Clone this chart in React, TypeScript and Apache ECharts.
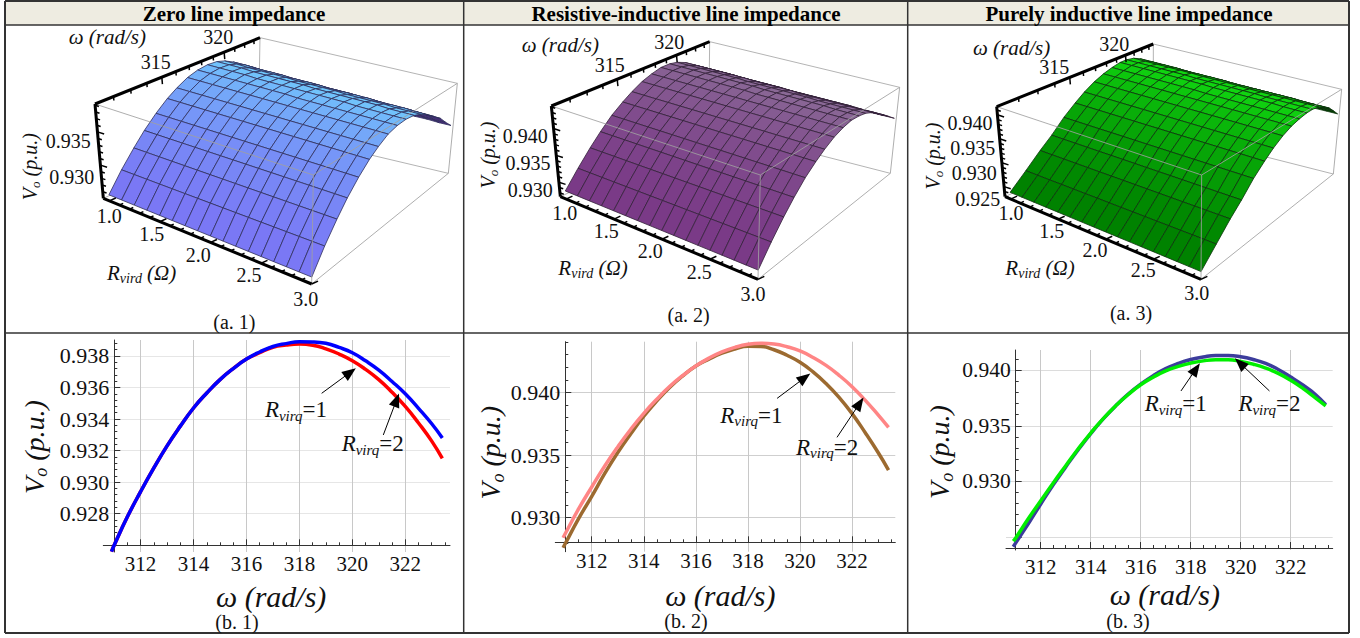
import React, { useEffect, useRef } from "react";
import * as echarts from "echarts";

const SERIF = "Liberation Serif";

// ---- bottom row data ----
const omegaSamples = [310.9, 311, 311.5, 312, 312.5, 313, 313.5, 314, 314.5, 315, 315.5, 316, 316.5, 317, 317.5, 318, 318.5, 319, 319.5, 320, 320.5, 321, 321.5, 322, 322.5, 323, 323.4];
const zeroR1 = [0.9256, 0.926, 0.9278, 0.9294, 0.9309, 0.9323, 0.93355, 0.9347, 0.93565, 0.9365, 0.9372, 0.9378, 0.93825, 0.9386, 0.93878, 0.9389, 0.93889, 0.9388, 0.93854, 0.9382, 0.93769, 0.9371, 0.93638, 0.9356, 0.93468, 0.9337, 0.9328];
const zeroR2 = [0.9256, 0.926, 0.9278, 0.9294, 0.9309, 0.9323, 0.93355, 0.9347, 0.93565, 0.9365, 0.9372, 0.9378, 0.9382, 0.93855, 0.93869, 0.93875, 0.93868, 0.93845, 0.93812, 0.9377, 0.93715, 0.9365, 0.9357, 0.9348, 0.93375, 0.9326, 0.9315];
const rlR1 = [0.9284, 0.9288, 0.93072, 0.93245, 0.93412, 0.93565, 0.93706, 0.93833, 0.93945, 0.94048, 0.94135, 0.94211, 0.94273, 0.94323, 0.94359, 0.94383, 0.94391, 0.94385, 0.94364, 0.9433, 0.94278, 0.94215, 0.94136, 0.94045, 0.93938, 0.9382, 0.9372];
const rlR2 = [0.9276, 0.928, 0.92995, 0.9317, 0.93353, 0.9352, 0.9367, 0.9381, 0.93932, 0.9404, 0.94132, 0.9421, 0.94265, 0.94312, 0.94346, 0.94368, 0.94366, 0.9434, 0.94296, 0.9424, 0.94163, 0.9407, 0.9396, 0.9383, 0.9368, 0.9352, 0.9338];
const indR1 = [0.9241, 0.92445, 0.92618, 0.92795, 0.92968, 0.9313, 0.93285, 0.9343, 0.93562, 0.9368, 0.93785, 0.93875, 0.93952, 0.94015, 0.94062, 0.94097, 0.9412, 0.94133, 0.94133, 0.94122, 0.94098, 0.94062, 0.94008, 0.9394, 0.93865, 0.9378, 0.9369];
const indR2 = [0.9246, 0.9249, 0.92662, 0.92825, 0.92985, 0.9314, 0.93293, 0.93435, 0.93565, 0.9368, 0.93782, 0.9387, 0.93938, 0.93995, 0.94035, 0.94065, 0.94085, 0.94095, 0.94095, 0.9408, 0.94055, 0.9402, 0.93972, 0.9391, 0.93835, 0.9375, 0.9368];

const xMajor = [312, 314, 316, 318, 320, 322];
const xMinor = [311, 311.5, 312, 312.5, 313, 313.5, 314, 314.5, 315, 315.5, 316, 316.5, 317, 317.5, 318, 318.5, 319, 319.5, 320, 320.5, 321, 321.5, 322, 322.5, 323, 323.5];
const y1Major = [0.928, 0.93, 0.932, 0.934, 0.936, 0.938];
const y1Minor = [0.9264, 0.9268, 0.9272, 0.9276, 0.928, 0.9284, 0.9288, 0.9292, 0.9296, 0.93, 0.9304, 0.9308, 0.9312, 0.9316, 0.932, 0.9324, 0.9328, 0.9332, 0.9336, 0.934, 0.9344, 0.9348, 0.9352, 0.9356, 0.936, 0.9364, 0.9368, 0.9372, 0.9376, 0.938, 0.9384, 0.9388];
const y2Major = [0.93, 0.935, 0.94];
const y2Minor = [0.928, 0.929, 0.93, 0.931, 0.932, 0.933, 0.934, 0.935, 0.936, 0.937, 0.938, 0.939, 0.94, 0.941, 0.942, 0.943, 0.944];
const y3Major = [0.925, 0.93, 0.935, 0.94];
const y3Labels = [0.93, 0.935, 0.94];
const y3Minor = [0.924, 0.925, 0.926, 0.927, 0.928, 0.929, 0.93, 0.931, 0.932, 0.933, 0.934, 0.935, 0.936, 0.937, 0.938, 0.939, 0.94, 0.941];

// ---- top row data: V in 1e-4 p.u.; one row per R in rGrid, one column per omega in omegaGrid ----
const rGrid = [1, 1.125, 1.25, 1.375, 1.5, 1.625, 1.75, 1.875, 2, 2.125, 2.25, 2.375, 2.5, 2.625, 2.75, 2.875, 3];
const omegaGrid = [311, 311.8, 312.6, 313.3, 314.1, 314.9, 315.6, 316.4, 317.2, 318, 318.8, 319.5, 320.3, 321.1, 321.9, 322.6, 323.4];
const surfaceZero = [
  [9259,9287,9311,9330,9348,9363,9373,9382,9387,9389,9388,9384,9377,9368,9358,9347,9336],
  [9259,9287,9311,9330,9348,9363,9373,9382,9387,9389,9388,9384,9377,9368,9358,9347,9335],
  [9259,9287,9311,9330,9348,9363,9373,9382,9387,9389,9388,9383,9376,9367,9357,9346,9335],
  [9259,9287,9311,9330,9348,9363,9373,9382,9387,9389,9387,9383,9376,9367,9357,9346,9334],
  [9259,9287,9311,9330,9348,9363,9373,9382,9387,9388,9387,9383,9376,9366,9356,9345,9334],
  [9259,9287,9311,9330,9348,9363,9373,9382,9387,9388,9387,9383,9375,9366,9356,9345,9333],
  [9259,9287,9311,9330,9348,9363,9373,9382,9387,9388,9387,9382,9375,9366,9356,9344,9333],
  [9259,9287,9311,9330,9348,9363,9373,9382,9387,9388,9387,9382,9375,9365,9355,9344,9332],
  [9259,9287,9311,9330,9348,9363,9373,9382,9386,9388,9386,9382,9374,9365,9355,9343,9332],
  [9259,9287,9311,9330,9348,9363,9373,9382,9386,9388,9386,9382,9374,9365,9355,9343,9331],
  [9259,9287,9311,9330,9348,9363,9373,9382,9386,9388,9386,9381,9374,9364,9354,9343,9331],
  [9259,9287,9311,9330,9348,9363,9373,9382,9386,9388,9386,9381,9374,9364,9354,9342,9330],
  [9259,9287,9311,9330,9348,9363,9373,9382,9386,9387,9386,9381,9373,9363,9353,9342,9330],
  [9259,9287,9311,9330,9348,9363,9373,9382,9386,9387,9386,9381,9373,9363,9353,9341,9329],
  [9259,9287,9311,9330,9348,9363,9373,9382,9386,9387,9385,9380,9373,9363,9353,9341,9329],
  [9259,9287,9311,9330,9348,9363,9373,9382,9386,9387,9385,9380,9372,9362,9352,9340,9328],
  [9259,9287,9311,9330,9348,9363,9373,9382,9386,9387,9385,9380,9372,9362,9352,9340,9328],
];
const surfaceRL = [
  [9288,9318,9345,9366,9387,9403,9415,9426,9433,9438,9438,9435,9428,9418,9408,9398,9388],
  [9288,9318,9345,9366,9387,9403,9415,9426,9433,9438,9438,9435,9428,9418,9408,9398,9388],
  [9288,9318,9345,9366,9387,9403,9415,9426,9433,9438,9438,9435,9428,9418,9408,9398,9387],
  [9288,9318,9345,9366,9387,9403,9415,9426,9433,9438,9438,9435,9428,9418,9408,9398,9387],
  [9288,9318,9345,9366,9387,9403,9415,9426,9433,9438,9438,9435,9428,9417,9407,9397,9387],
  [9288,9318,9345,9366,9387,9403,9415,9426,9433,9438,9438,9435,9428,9417,9407,9397,9387],
  [9288,9318,9345,9366,9387,9403,9415,9426,9433,9438,9438,9434,9427,9417,9407,9397,9386],
  [9288,9318,9345,9366,9387,9403,9415,9426,9433,9438,9438,9434,9427,9417,9407,9397,9386],
  [9288,9318,9345,9366,9387,9403,9415,9426,9433,9437,9437,9434,9427,9416,9406,9396,9386],
  [9288,9318,9345,9366,9387,9403,9415,9426,9433,9437,9437,9434,9427,9416,9406,9396,9386],
  [9288,9318,9345,9366,9387,9403,9415,9426,9433,9437,9437,9434,9426,9416,9406,9396,9385],
  [9288,9318,9345,9366,9387,9403,9415,9426,9433,9437,9437,9434,9426,9416,9406,9396,9385],
  [9288,9318,9345,9366,9387,9403,9415,9426,9433,9437,9437,9433,9426,9416,9406,9395,9385],
  [9288,9318,9345,9366,9387,9403,9415,9426,9433,9437,9437,9433,9426,9416,9406,9395,9385],
  [9288,9318,9345,9366,9387,9403,9415,9426,9433,9437,9436,9433,9426,9415,9405,9395,9384],
  [9288,9318,9345,9366,9387,9403,9415,9426,9433,9437,9436,9433,9426,9415,9405,9395,9384],
  [9288,9318,9345,9366,9387,9403,9415,9426,9433,9437,9436,9433,9426,9415,9405,9395,9384],
];
const surfaceInd = [
  [9243,9272,9300,9321,9347,9367,9382,9395,9404,9410,9414,9414,9411,9404,9394,9382,9369],
  [9243,9272,9300,9321,9347,9367,9382,9395,9404,9410,9414,9414,9411,9404,9394,9382,9369],
  [9243,9272,9300,9321,9347,9367,9382,9395,9404,9410,9414,9414,9411,9404,9394,9382,9368],
  [9243,9272,9300,9321,9347,9367,9382,9395,9404,9410,9414,9414,9411,9404,9394,9382,9368],
  [9243,9272,9300,9321,9347,9367,9382,9395,9404,9410,9414,9414,9411,9403,9393,9381,9368],
  [9243,9272,9300,9321,9347,9367,9382,9395,9404,9410,9414,9414,9411,9403,9393,9381,9368],
  [9243,9272,9300,9321,9347,9367,9382,9395,9404,9410,9414,9413,9410,9403,9393,9381,9367],
  [9243,9272,9300,9321,9347,9367,9382,9395,9404,9410,9414,9413,9410,9403,9393,9381,9367],
  [9243,9272,9300,9321,9347,9367,9382,9395,9404,9409,9413,9413,9410,9402,9392,9380,9367],
  [9243,9272,9300,9321,9347,9367,9382,9395,9404,9409,9413,9413,9410,9402,9392,9380,9367],
  [9243,9272,9300,9321,9347,9367,9382,9395,9404,9409,9413,9413,9409,9402,9392,9380,9366],
  [9243,9272,9300,9321,9347,9367,9382,9395,9404,9409,9413,9413,9409,9402,9392,9380,9366],
  [9243,9272,9300,9321,9347,9367,9382,9395,9404,9409,9413,9412,9409,9402,9392,9379,9366],
  [9243,9272,9300,9321,9347,9367,9382,9395,9404,9409,9413,9412,9409,9402,9392,9379,9366],
  [9243,9272,9300,9321,9347,9367,9382,9395,9404,9409,9412,9412,9409,9401,9391,9379,9365],
  [9243,9272,9300,9321,9347,9367,9382,9395,9404,9409,9412,9412,9409,9401,9391,9379,9365],
  [9243,9272,9300,9321,9347,9367,9382,9395,9404,9409,9412,9412,9409,9401,9391,9379,9365],
];
const rTicks = [1, 1.1, 1.2, 1.3, 1.4, 1.5, 1.6, 1.7, 1.8, 1.9, 2, 2.1, 2.2, 2.3, 2.4, 2.5, 2.6, 2.7, 2.8, 2.9, 3];
const rMajor = [1, 1.5, 2, 2.5, 3];
const omegaTicks = [311, 312, 313, 314, 315, 316, 317, 318, 319, 320, 321, 322, 323];
const omegaMajor = [315, 320];

const titles = ["Zero line impedance", "Resistive-inductive line impedance", "Purely inductive line impedance"];

// ---- layout (positions in reference pixels) ----
const panels3d = [
  {
    ox: 0, surface: surfaceZero, Vlo: 0.925, Vhi: 0.9392, k: 0.48, Vticks: [0.926,0.927,0.928,0.929,0.93,0.931,0.932,0.933,0.934,0.935,0.936,0.937,0.938,0.939], Vmajor: [0.93, 0.935],
    c: { p000: [310,595], p100: [935,852], p010: [775,385], p110: [1345,520], p001: [285,312], p101: [940,525], p011: [780,113], p111: [1372,250] },
    low: [122,120,245], high: [112,200,252], back: [70,45,120], mesh: "#30305c",
    labels: [["320",655,110],["315",467,185],["0.935",205,422],["0.930",215,530],["1.0",328,648],["1.5",455,703],["2.0",595,765],["2.5",747,825],["3.0",917,898]],
    omegaT: [322,112], vT: [90,500], rT: [425,820], cap: ["(a. 1)",703,965],
  },
  {
    ox: 462, surface: surfaceRL, Vlo: 0.9273, Vhi: 0.9442, k: 0.55, Vticks: [0.928,0.929,0.93,0.931,0.932,0.933,0.934,0.935,0.936,0.937,0.938,0.939,0.94,0.941,0.942,0.943,0.944], Vmajor: [0.93, 0.935, 0.94],
    c: { p000: [295,590], p100: [888,838], p010: [740,380], p110: [1285,520], p001: [268,318], p101: [895,525], p011: [743,125], p111: [1313,262] },
    low: [122,58,135], high: [138,105,150], back: [120,30,85], mesh: "#33223a",
    labels: [["320",622,125],["315",443,195],["0.940",190,408],["0.935",198,490],["0.930",205,570],["1.0",308,640],["1.5",433,693],["2.0",565,753],["2.5",712,815],["3.0",873,882]],
    omegaT: [295,135], vT: [78,465], rT: [393,805], cap: ["(a. 2)",680,946],
  },
  {
    ox: 905, surface: surfaceInd, Vlo: 0.9229, Vhi: 0.9417, k: 0.9, Vticks: [0.923,0.924,0.925,0.926,0.927,0.928,0.929,0.93,0.931,0.932,0.933,0.934,0.935,0.936,0.937,0.938,0.939,0.94,0.941], Vmajor: [0.925, 0.93, 0.935, 0.94],
    c: { p000: [300,590], p100: [888,838], p010: [745,385], p110: [1285,522], p001: [275,320], p101: [890,525], p011: [745,132], p111: [1310,268] },
    low: [0,130,0], high: [16,212,16], back: [0,60,0], mesh: "#0d330d",
    labels: [["320",628,132],["315",448,202],["0.940",195,368],["0.935",203,443],["0.930",208,520],["0.925",218,597],["1.0",318,640],["1.5",440,693],["2.0",570,750],["2.5",715,810],["3.0",875,878]],
    omegaT: [320,143], vT: [85,468], rT: [405,803], cap: ["(a. 3)",678,940],
  },
];

const OMEGA_LO = 311, OMEGA_SPAN = 12.7, R_LO = 0.94, R_SPAN = 2.06;

const panels2d = [
  {
    grid: { left: 103.3, top: 340, width: 346.7, height: 212 }, xMin: 310.59, xMax: 323.69, yMin: 0.92557, yMax: 0.93901,
    xOff: 6.7, yOff: 11, yMajor: y1Major, yLabels: y1Major, yMinor: y1Minor, labelFont: 22, yNameGap: 64, yPad: 2, xNameGap: 36, xPad: 11, hLine: "#e6e6e6",
    s2: zeroR2, s1: zeroR1, c2: "#ff0000", c1: "#0000ff",
    arrows: [[[318.84,0.93563],[319.92,0.93696]],[[321.17,0.93299],[321.67,0.93521]]],
    notes: [["1",317.87,0.93458],["2",320.77,0.93242]],
    cap: ["(b. 1)",237,622],
  },
  {
    grid: { left: 555.3, top: 341.7, width: 340, height: 210 }, xMin: 310.6, xMax: 323.66, yMin: 0.92729, yMax: 0.94404,
    xOff: 9.4, yOff: 10, yMajor: y2Major, yLabels: y2Major, yMinor: y2Minor, labelFont: 22, yNameGap: 56, yPad: 12, xNameGap: 38, xPad: 10, hLine: "#cfcfcf",
    s2: rlR2, s1: rlR1, c2: "#9c6a30", c1: "#ff8585",
    arrows: [[[319.12,0.93952],[320.18,0.94117]],[[321.42,0.93641],[322.29,0.93912]]],
    notes: [["1",318.13,0.93819],["2",321.04,0.93561]],
    cap: ["(b. 2)",686,621],
  },
  {
    grid: { left: 1006, top: 350, width: 326.7, height: 200 }, xMin: 310.61, xMax: 323.68, yMin: 0.92381, yMax: 0.94183,
    xOff: 2, yOff: 9.7, yMajor: y3Major, yLabels: y3Labels, yMinor: y3Minor, labelFont: 21.5, yNameGap: 60, yPad: 4, xNameGap: 31, xPad: 9, hLine: "#dcdcdc",
    s2: indR1, s1: indR2, c2: "#3c3c9c", c1: "#00ee00",
    arrows: [[[317.61,0.93814],[318.21,0.94012]],[[321.15,0.93814],[319.97,0.94065]]],
    notes: [["1",317.4,0.93697],["2",321.15,0.93697]],
    cap: ["(b. 3)",1128,621],
  },
];

const subRich = (big: number, small: number) => ({
  i: { fontFamily: SERIF, fontStyle: "italic", fontSize: big, color: "#111", lineHeight: big + 4 },
  s: { fontFamily: SERIF, fontStyle: "italic", fontSize: small, color: "#111", lineHeight: big + 4, verticalAlign: "bottom" },
  n: { fontFamily: SERIF, fontSize: big, color: "#111", lineHeight: big + 4 },
});

function makeProject(p: any) {
  const c: any = {};
  Object.keys(p.c).forEach((key) => { c[key] = [p.c[key][0] / 3 + p.ox, p.c[key][1] / 3]; });
  const vOf = (w: number) => { const v = (w - OMEGA_LO) / OMEGA_SPAN; return (v * (1 + p.k)) / (1 + p.k * v); };
  const project = (R: number, w: number, V: number) => {
    const u = (R - R_LO) / R_SPAN, v = vOf(w), t = (V - p.Vlo) / (p.Vhi - p.Vlo);
    const out = [0, 0];
    for (let a = 0; a < 2; a++) {
      const bot = (1 - v) * ((1 - u) * c.p000[a] + u * c.p100[a]) + v * ((1 - u) * c.p010[a] + u * c.p110[a]);
      const top = (1 - v) * ((1 - u) * c.p001[a] + u * c.p101[a]) + v * ((1 - u) * c.p011[a] + u * c.p111[a]);
      out[a] = (1 - t) * bot + t * top;
    }
    return out;
  };
  return { c, vOf, project };
}

function panelSeries(p: any, index: number) {
  const { c, vOf, project } = makeProject(p);
  const line = (api: any, a: number[], b: number[], stroke: string, lineWidth: number) => {
    const A = api.coord(a), B = api.coord(b);
    return { type: "line", shape: { x1: A[0], y1: A[1], x2: B[0], y2: B[1] }, style: { stroke, lineWidth } };
  };
  const unit = (a: number[], b: number[]) => { const dx = b[0] - a[0], dy = b[1] - a[1], d = Math.hypot(dx, dy); return [dx / d, dy / d]; };
  const quads: number[][] = [];
  for (let j = omegaGrid.length - 2; j >= 0; j--) for (let i = 0; i < rGrid.length - 1; i++) quads.push([i, j]);
  const peakV = vOf(318.6);
  const base = { type: "custom", coordinateSystem: "cartesian2d", xAxisIndex: 0, yAxisIndex: 0, silent: true, clip: false };
  return [
    {
      ...base, id: `box-back-${index}`, z: 2, data: [[0, 0]],
      renderItem: (_: any, api: any) => ({
        type: "group",
        children: [[c.p011, c.p111], [c.p011, c.p010], [c.p010, c.p110], [c.p010, c.p000]].map(([a, b]) => line(api, a, b, "#b4b4b4", 1)),
      }),
    },
    {
      ...base, id: `surface-${index}`, z: 3, data: quads,
      renderItem: (_: any, api: any) => {
        const i = api.value(0), j = api.value(1);
        const corner = (ii: number, jj: number) => project(rGrid[ii], omegaGrid[jj], p.surface[ii][jj] * 1e-4);
        const pts = [corner(i, j), corner(i + 1, j), corner(i + 1, j + 1), corner(i, j + 1)].map((q) => api.coord(q));
        let area = 0;
        pts.forEach((q: number[], n: number) => { const r = pts[(n + 1) % 4]; area += q[0] * r[1] - r[0] * q[1]; });
        const f = Math.pow(Math.min(1, vOf(omegaGrid[j]) / peakV), 1.3);
        const col = area > 0 ? p.back : p.low.map((l: number, n: number) => Math.round(l + (p.high[n] - l) * f));
        return { type: "polygon", shape: { points: pts }, style: { fill: `rgb(${col.join(",")})`, stroke: p.mesh, lineWidth: 0.8 } };
      },
    },
    {
      ...base, id: `axes-${index}`, z: 4, data: [[0, 0]],
      renderItem: (_: any, api: any) => {
        const kids: any[] = [];
        [[c.p001, c.p101], [c.p101, c.p111], [c.p101, c.p100], [c.p100, c.p110], [c.p110, c.p111]].forEach(([a, b]) => kids.push(line(api, a, b, "rgba(160,160,160,0.85)", 1)));
        const rDir = unit(c.p000, c.p010), wDir = unit(c.p001, c.p000), vDir = unit(c.p001, c.p101);
        rTicks.forEach((R) => {
          const a = project(R, OMEGA_LO, p.Vlo), l = rMajor.includes(R) ? 7 : 4;
          kids.push(line(api, a, [a[0] + rDir[0] * l, a[1] + rDir[1] * l], "#000", 1.5));
        });
        omegaTicks.forEach((w) => {
          const a = project(R_LO, w, p.Vhi), l = omegaMajor.includes(w) ? 7 : 4;
          kids.push(line(api, a, [a[0] + wDir[0] * l, a[1] + wDir[1] * l], "#000", 1.5));
        });
        p.Vticks.forEach((V: number) => {
          const a = project(R_LO, OMEGA_LO, V), l = p.Vmajor.includes(V) ? 7 : 4;
          kids.push(line(api, a, [a[0] + vDir[0] * l, a[1] + vDir[1] * l], "#000", 1.5));
        });
        kids.push(line(api, c.p001, c.p011, "#000", 3));
        kids.push(line(api, c.p001, c.p000, "#000", 3));
        kids.push(line(api, c.p000, c.p100, "#000", 3));
        return { type: "group", children: kids };
      },
    },
  ];
}

function textEl(text: string, x: number, y: number, fontSize: number, extra: any = {}, rotation = 0) {
  return {
    type: "text", x, y, rotation, z: 20, silent: true,
    style: { text, fontFamily: SERIF, fontSize, fill: "#111", align: "center", verticalAlign: "middle", ...extra },
  };
}

function buildOption() {
  const grids: any[] = [{ left: 0, top: 0, width: 1360, height: 638 }];
  const xAxes: any[] = [{ gridIndex: 0, type: "value", min: 0, max: 1360, show: false }];
  const yAxes: any[] = [{ gridIndex: 0, type: "value", min: 0, max: 638, inverse: true, show: false }];
  const series: any[] = [];
  panels3d.forEach((p, n) => series.push(...panelSeries(p, n)));

  panels2d.forEach((p, n) => {
    const gi = n + 1;
    grids.push(p.grid);
    const axisLine = { show: true, onZero: false, lineStyle: { color: "#333", width: 1 } };
    xAxes.push({
      gridIndex: gi, type: "value", position: "bottom", offset: -p.xOff, min: p.xMin, max: p.xMax,
      name: "ω (rad/s)", nameLocation: "middle", nameGap: p.xNameGap,
      nameTextStyle: { fontFamily: SERIF, fontStyle: "italic", fontSize: 30, color: "#111", padding: [0, p.xPad, 0, 0] },
      axisLine: { show: false },
      axisTick: { show: true, inside: true, length: 6, customValues: xMajor, lineStyle: { color: "#333" } },
      axisLabel: { show: true, customValues: xMajor, margin: 8, fontFamily: SERIF, fontSize: 21, color: "#111", formatter: (v: number) => String(v) },
      splitLine: { show: true, lineStyle: { color: "#c8c8c8", width: 1 } },
    });
    xAxes.push({
      gridIndex: gi, type: "value", position: "bottom", offset: -p.xOff, min: p.xMin, max: p.xMax, axisLine,
      axisTick: { show: true, inside: true, length: 3, customValues: xMinor, lineStyle: { color: "#333" } },
      axisLabel: { show: false }, splitLine: { show: false },
    });
    yAxes.push({
      gridIndex: gi, type: "value", position: "left", offset: -p.yOff, min: p.yMin, max: p.yMax,
      name: "{i|V}{s|o}{i| (p.u.)}", nameLocation: "middle", nameGap: p.yNameGap,
      nameTextStyle: { rich: subRich(28, 18), padding: [0, p.yPad, 0, 0] },
      axisLine: { show: false },
      axisTick: { show: true, inside: true, length: 6, customValues: p.yMajor, lineStyle: { color: "#333" } },
      axisLabel: { show: true, customValues: p.yLabels, margin: 5, fontFamily: SERIF, fontSize: p.labelFont, color: "#111", formatter: (v: number) => v.toFixed(3) },
      splitLine: { show: true, lineStyle: { color: p.hLine, width: 1 } },
    });
    yAxes.push({
      gridIndex: gi, type: "value", position: "left", offset: -p.yOff, min: p.yMin, max: p.yMax, axisLine,
      axisTick: { show: true, inside: true, length: 3, customValues: p.yMinor, lineStyle: { color: "#333" } },
      axisLabel: { show: false }, splitLine: { show: false },
    });
    const xIdx = 1 + 2 * n, yIdx = 1 + 2 * n;
    const pairs = (vals: number[]) => omegaSamples.map((w, i) => [w, vals[i]]);
    const lineBase = { type: "line", xAxisIndex: xIdx, yAxisIndex: yIdx, smooth: true, symbol: "none", silent: true, z: 5, clip: false };
    series.push({ ...lineBase, id: `curve-a-${n}`, data: pairs(p.s2), lineStyle: { color: p.c2, width: 3.5 } });
    series.push({
      ...lineBase, id: `curve-b-${n}`, data: pairs(p.s1), lineStyle: { color: p.c1, width: 3.5 },
      markLine: {
        silent: true, symbol: ["none", "triangle"], symbolSize: [11, 14], animation: false, z: 8,
        itemStyle: { color: "#000" },
        lineStyle: { color: "#000", width: 1, type: "solid" }, label: { show: false }, emphasis: { disabled: true },
        data: p.arrows.map((a: number[][]) => [{ coord: a[0] }, { coord: a[1] }]),
      },
      markPoint: {
        silent: true, symbol: "circle", symbolSize: 1, itemStyle: { color: "rgba(0,0,0,0)" }, animation: false, z: 9,
        data: p.notes.map((t: any[]) => ({
          coord: [t[1], t[2]],
          label: { show: true, position: "inside", formatter: `{i|R}{s|virq}{n|=${t[0]}}`, rich: subRich(23, 15) },
        })),
      },
    });
  });

  const graphics: any[] = [];
  // table frame
  graphics.push({ type: "rect", z: 0, silent: true, shape: { x: 5, y: 1, width: 1344, height: 24 }, style: { fill: "#eeece1" } });
  const frame = [[5,1,1349,1,2],[5,25,1349,25,1.5],[5,333,1349,333,1.5],[5,633,1349,633,2],[5,1,5,633,2],[1349,1,1349,633,2],[463.7,1,463.7,633,1.5],[907.7,1,907.7,633,1.5]];
  frame.forEach(([x1, y1, x2, y2, w]) => graphics.push({ type: "line", z: 1, silent: true, shape: { x1, y1, x2, y2 }, style: { stroke: "#333", lineWidth: w } }));
  [234, 686, 1129].forEach((x, i) => graphics.push(textEl(titles[i], x, 14, 21, { fontWeight: "bold", fill: "#000" })));

  panels3d.forEach((p: any) => {
    const X = (z: number) => z / 3 + p.ox, Y = (z: number) => z / 3;
    p.labels.forEach((l: any[]) => graphics.push(textEl(l[0], X(l[1]), Y(l[2]), 20)));
    graphics.push(textEl("ω (rad/s)", X(p.omegaT[0]), Y(p.omegaT[1]), 21, { fontStyle: "italic" }));
    graphics.push(textEl("{i|V}{s|o}{i| (p.u.)}", X(p.vT[0]), Y(p.vT[1]), 20, { rich: subRich(20, 13) }, Math.PI / 2));
    graphics.push(textEl("{i|R}{s|vird}{i| (Ω)}", X(p.rT[0]), Y(p.rT[1]), 21, { rich: subRich(21, 14) }));
    graphics.push(textEl(p.cap[0], X(p.cap[1]), Y(p.cap[2]), 20));
  });
  panels2d.forEach((p: any) => graphics.push(textEl(p.cap[0], p.cap[1], p.cap[2], 20)));

  return {
    animation: false, backgroundColor: "#ffffff", textStyle: { fontFamily: SERIF },
    grid: grids, xAxis: xAxes, yAxis: yAxes, series, graphic: { elements: graphics },
  };
}

export default function App() {
  const ref = useRef<HTMLDivElement>(null);
  useEffect(() => {
    const chart = echarts.init(ref.current as HTMLDivElement, undefined, { renderer: "svg" });
    chart.setOption(buildOption() as any);
    return () => chart.dispose();
  }, []);
  return <div ref={ref} style={{ position: "absolute", left: 0, top: 0, width: 1360, height: 638 }} />;
}
